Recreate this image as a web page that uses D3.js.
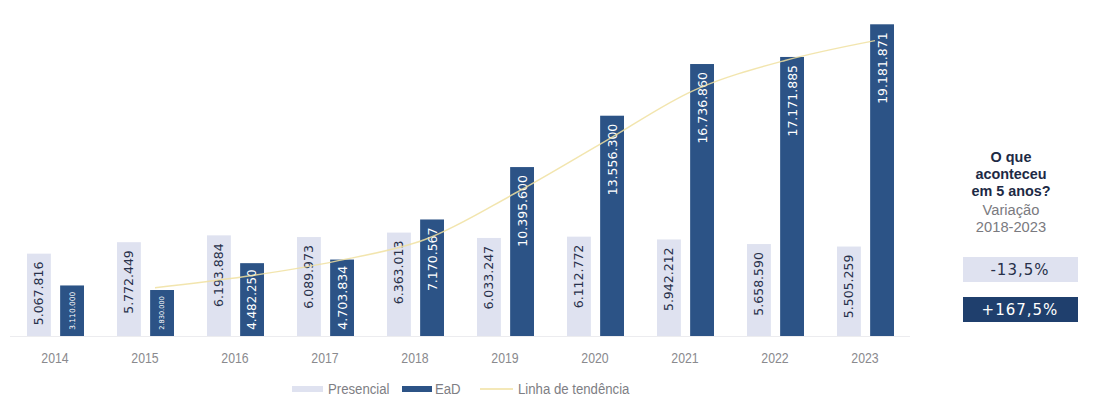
<!DOCTYPE html>
<html lang="pt-BR">
<head>
<meta charset="utf-8">
<script src="https://cdn.jsdelivr.net/npm/d3@7"></script>
<style>
  html, body { margin: 0; padding: 0; background: #ffffff; }
  svg { display: block; }
</style>
</head>
<body>
<svg id="chart" width="1095" height="408"></svg>
<script>
// Vagas oferecidas por modalidade, 2014–2023
const years = ["2014", "2015", "2016", "2017", "2018", "2019", "2020", "2021", "2022", "2023"];
const presencial = [5067816, 5772449, 6193884, 6089973, 6363013, 6033247, 6112772, 5942212, 5658590, 5505259];
const ead = [3110000, 2830000, 4482250, 4703834, 7170567, 10395600, 13556300, 16736860, 17171885, 19181871];
const seriesNames = ["Presencial", "EaD"];
const legendLabels = ["Presencial", "EaD", "Linha de tendência"];
const panelTitle = ["O que", "aconteceu", "em 5 anos?"];
const panelSubtitle = ["Variação", "2018-2023"];
const panelValues = ["-13,5%", "+167,5%"];

const colors = { Presencial: "#dfe2f0", EaD: "#2c5386", trend: "#f0e1a0" };
const sans = "'Liberation Sans', Arial, sans-serif";

const svg = d3.select("#chart");
const baseY = 336;

const x0 = d3.scaleBand().domain(years).range([10, 910]).paddingInner(0).paddingOuter(0);
const x1 = d3.scaleBand().domain(seriesNames).range([17, 74]).paddingInner(0.28);
const y = d3.scaleLinear().domain([0, 20000000]).range([baseY, 11]);

const fmt = v => d3.format(",")(v).replace(/,/g, ".");

const rows = years.map((yr, i) => ({ year: yr, Presencial: presencial[i], EaD: ead[i] }));

// condensed text: horizontal squeeze around the anchor point
function squeezed(parent, x, yPos, txt, k) {
  return parent.append("text")
    .attr("transform", `translate(${x},${yPos}) scale(${k},1)`)
    .text(txt);
}

// baseline
svg.append("line")
  .attr("x1", x0.range()[0]).attr("x2", x0.range()[1])
  .attr("y1", baseY + 0.5).attr("y2", baseY + 0.5)
  .attr("stroke", "#ececef").attr("stroke-width", 1);

// bars
const groups = svg.append("g").selectAll("g").data(rows).join("g")
  .attr("transform", d => `translate(${x0(d.year)},0)`);

groups.selectAll("rect").data(d => seriesNames.map(k => ({ key: k, value: d[k] }))).join("rect")
  .attr("x", d => x1(d.key))
  .attr("width", x1.bandwidth())
  .attr("y", d => y(d.value))
  .attr("height", d => baseY - y(d.value))
  .attr("fill", d => colors[d.key]);

// value labels, rotated inside each bar
const labelSize = 12.5;
const labelLen = 64;
groups.selectAll("text.val").data(d => seriesNames.map(k => ({ key: k, value: d[k] }))).join("text")
  .attr("class", "val")
  .attr("font-family", "'DejaVu Sans', sans-serif")
  .attr("fill", d => d.key === "EaD" ? "#ffffff" : "#27304a")
  .attr("dominant-baseline", "central")
  .each(function (d) {
    const top = y(d.value);
    const h = baseY - top;
    const cx = x1(d.key) + x1.bandwidth() / 2;
    const t = d3.select(this).text(fmt(d.value));
    if (h < labelLen + 16) {
      const fs = labelSize * (h - 12) / labelLen;
      t.attr("font-size", fs.toFixed(2))
        .attr("text-anchor", "middle")
        .attr("transform", `translate(${cx},${top + h / 2}) rotate(-90)`);
    } else {
      t.attr("font-size", labelSize)
        .attr("text-anchor", "end")
        .attr("transform", `translate(${cx},${top + 8}) rotate(-90)`);
    }
  });

// trend line: two-period moving average of EaD
const trend = ead.slice(1).map((v, i) => ({ year: years[i + 1], value: (v + ead[i]) / 2 }));
const line = d3.line()
  .x(d => x0(d.year) + x0.bandwidth() / 2 + 10)
  .y(d => y(d.value))
  .curve(d3.curveCatmullRom.alpha(0.5));
svg.append("path").datum(trend)
  .attr("d", line)
  .attr("fill", "none")
  .attr("stroke", colors.trend)
  .attr("stroke-width", 1.5)
  .attr("stroke-opacity", 0.85);

// x axis labels
const axis = d3.axisBottom(x0).tickSize(0).tickPadding(0);
const axisG = svg.append("g").attr("transform", `translate(0,${baseY + 16})`).call(axis);
axisG.select(".domain").remove();
axisG.selectAll("text")
  .attr("font-family", sans)
  .attr("font-size", 15)
  .attr("fill", "#8a8a8e")
  .attr("dy", "0.71em")
  .attr("transform", "scale(0.82,1)");

// legend
const legend = svg.append("g").attr("transform", "translate(0,389)");
const legendItems = [
  { label: legendLabels[0], x: 292, w: 31, tx: 328, type: "rect", color: colors.Presencial },
  { label: legendLabels[1], x: 402, w: 30, tx: 435, type: "rect", color: colors.EaD },
  { label: legendLabels[2], x: 480, w: 33, tx: 518, type: "line", color: colors.trend }
];
legendItems.forEach(it => {
  if (it.type === "rect") {
    legend.append("rect").attr("x", it.x).attr("y", -3).attr("width", it.w).attr("height", 6).attr("fill", it.color);
  } else {
    legend.append("line").attr("x1", it.x).attr("x2", it.x + it.w).attr("y1", 0).attr("y2", 0)
      .attr("stroke", it.color).attr("stroke-width", 1.5);
  }
  squeezed(legend, it.tx, 0, it.label, 0.88)
    .attr("dominant-baseline", "central")
    .attr("font-family", sans).attr("font-size", 15)
    .attr("fill", "#7e7e84");
});

// side panel
const panelX = 1011;
const panel = svg.append("g");
panelTitle.forEach((d, i) => {
  squeezed(panel, panelX, 157 + i * 17, d, 0.96)
    .attr("text-anchor", "middle").attr("dominant-baseline", "central")
    .attr("font-family", sans)
    .attr("font-weight", "bold").attr("font-size", 15)
    .attr("fill", "#1d2a45");
});
panelSubtitle.forEach((d, i) => {
  squeezed(panel, panelX, 210 + i * 17, d, 0.98)
    .attr("text-anchor", "middle").attr("dominant-baseline", "central")
    .attr("font-family", sans)
    .attr("font-size", 15)
    .attr("fill", "#7a7a80");
});

const boxFill = [colors.Presencial, "#1f3f6d"];
const boxText = ["#27304a", "#ffffff"];
panelValues.forEach((v, i) => {
  const by = 257 + i * 40;
  panel.append("rect").attr("x", 963).attr("y", by).attr("width", 115).attr("height", 25).attr("fill", boxFill[i]);
  panel.append("text")
    .attr("x", 1020).attr("y", by + 12.5)
    .attr("text-anchor", "middle").attr("dominant-baseline", "central")
    .attr("font-family", "'DejaVu Sans', sans-serif").attr("font-size", 15)
    .attr("letter-spacing", 1)
    .attr("fill", boxText[i])
    .text(v);
});
</script>
</body>
</html>
